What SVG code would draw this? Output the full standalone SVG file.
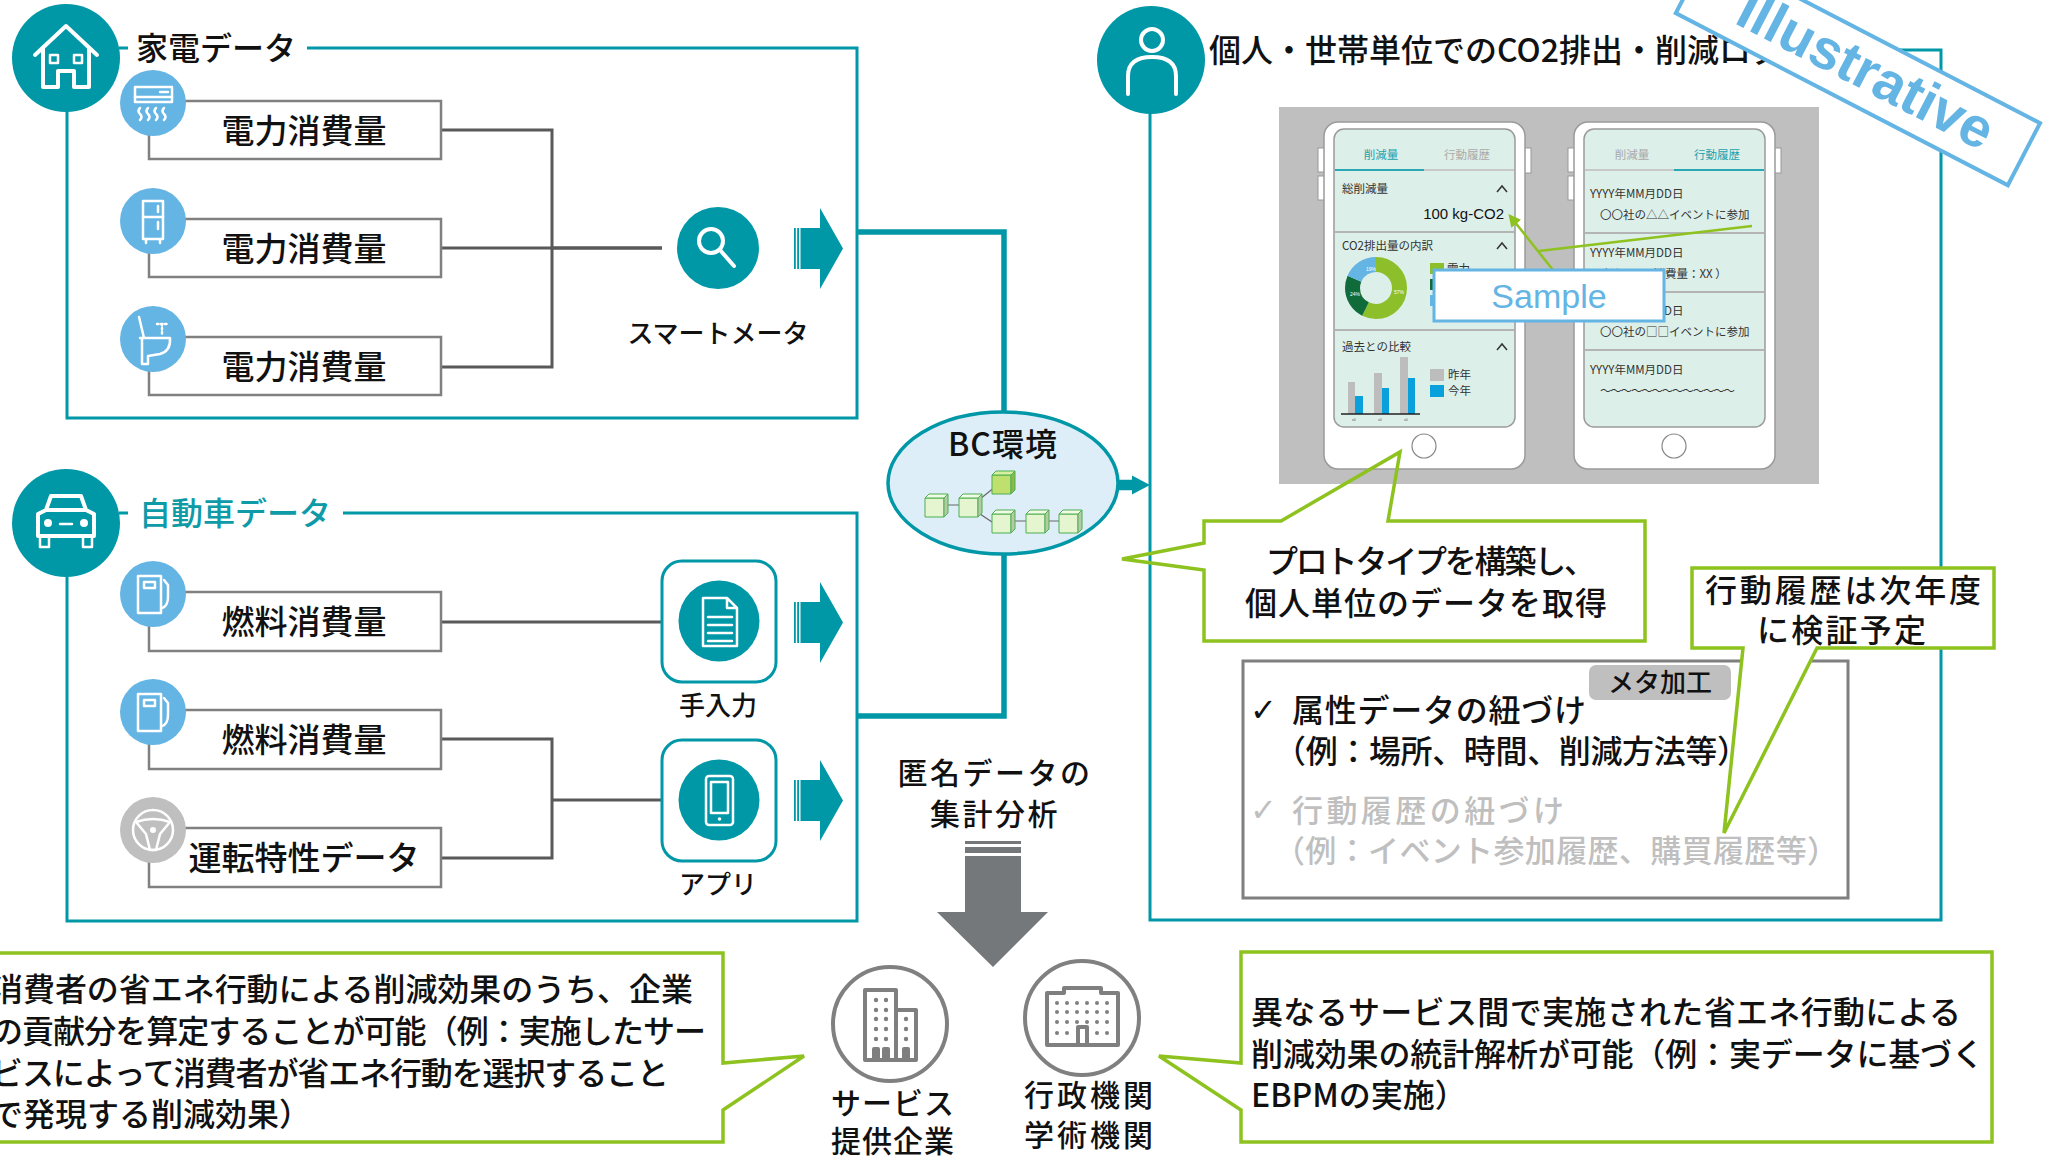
<svg xmlns="http://www.w3.org/2000/svg" width="2049" height="1156" viewBox="0 0 2049 1156">
<defs>
<style>
.jp{font-family:'Noto Sans CJK JP','Noto Sans',sans-serif;font-weight:500;}
.lat{font-family:'Liberation Sans',Arial,sans-serif;}
.frame{fill:none;stroke:#0097a7;stroke-width:3;}
.bus{fill:none;stroke:#0097a7;stroke-width:5.5;}
.lbox{fill:#fff;stroke:#808080;stroke-width:2.5;}
.conn{fill:none;stroke:#58595b;stroke-width:3;}
.wico{fill:none;stroke:#fff;stroke-width:4;stroke-linejoin:round;stroke-linecap:round;}
.wthin{fill:none;stroke:#fff;stroke-width:2.5;stroke-linejoin:round;stroke-linecap:round;}
.gico{fill:none;stroke:#7f7f7f;stroke-width:4;stroke-linejoin:round;}
.gdot{fill:#7f7f7f;}
.callout{fill:#fff;stroke:#8dc21f;stroke-width:3.5;}
.lbl{font-size:33px;fill:#111;text-anchor:middle;}
.cap{font-size:26px;fill:#111;text-anchor:middle;}
.head{font-size:32px;}
.body{font-size:32px;fill:#111;}
.ph{font-size:11.5px;fill:#333;font-weight:400;}
.phsep{stroke:#b4b4b4;stroke-width:2;}
.chev{fill:none;stroke:#333;stroke-width:1.5;}
.cfront{fill:#e4f5cf;stroke:#4caf50;stroke-width:1;}
.ctop{fill:#f2fbe6;stroke:#4caf50;stroke-width:1;}
.cside{fill:#b7caa6;stroke:#4caf50;stroke-width:1;}
</style>
<!-- striped block arrow pointing right, 49 x 81 -->
<g id="barrow">
  <rect x="0" y="20" width="1.8" height="41" fill="#0097a7"/>
  <rect x="3.2" y="20" width="1.8" height="41" fill="#0097a7"/>
  <path d="M6.5,20 H26 V0 L49,40.5 L26,81 V61 H6.5 Z" fill="#0097a7"/>
</g>
<g id="cube">
  <path class="cfront" d="M0,4 H19 V23 H0 Z"/>
  <path class="ctop" d="M0,4 L4,0 H23 L19,4 Z"/>
  <path class="cside" d="M19,4 L23,0 V19 L19,23 Z"/>
</g>
<g id="cubeDark">
  <path d="M0,4 H19 V23 H0 Z" fill="#bfe06e" stroke="#4caf50" stroke-width="1"/>
  <path d="M0,4 L4,0 H23 L19,4 Z" fill="#d8ef9e" stroke="#4caf50" stroke-width="1"/>
  <path d="M19,4 L23,0 V19 L19,23 Z" fill="#8db84c" stroke="#4caf50" stroke-width="1"/>
</g>
<marker id="garrow" viewBox="0 0 10 10" refX="8" refY="5" markerWidth="5" markerHeight="5" orient="auto">
  <path d="M0,0 L10,5 L0,10 Z" fill="#8dc21f"/>
</marker>
</defs>

<rect width="2049" height="1156" fill="#fff"/>

<!-- section frames -->
<g id="frames">
  <path class="frame" d="M119,48 H128 M307,48 H857 V418 H67 V110"/>
  <path class="frame" d="M119,513 H128 M343,513 H857 V921 H67 V575"/>
  <path class="frame" d="M1150,112 V920 H1941 V50 H1795"/>
</g>

<!-- connectors -->
<g id="connectors">
  <path class="conn" d="M441,130 H552 V367 H441 M441,248 H662"/>
  <path class="conn" d="M552,248 H662" stroke-width="3.5"/>
  <path class="conn" d="M441,622 H662"/>
  <path class="conn" d="M441,739 H552 V858 H441 M552,800 H662"/>
  <path class="bus" d="M857,232 H1004 V411"/>
  <path class="bus" d="M857,716 H1004 V554"/>
  <path d="M1117,485 H1134" stroke="#0097a7" stroke-width="10.5" fill="none"/>
  <path d="M1132,475.5 L1150,485 L1132,494.5 Z" fill="#0097a7"/>
  <use href="#barrow" transform="translate(794,208)"/>
  <use href="#barrow" transform="translate(794,582)"/>
  <use href="#barrow" transform="translate(794,760)"/>
  <!-- analysis arrow -->
  <rect x="965" y="841" width="56" height="3" fill="#75787b"/>
  <rect x="965" y="847" width="56" height="6" fill="#75787b"/>
  <path d="M965,856 H1021 V912 H1048 L993,967 L937,912 H965 Z" fill="#75787b"/>
</g>

<!-- household appliance section -->
<g id="home-head">
  <circle cx="66" cy="58" r="54" fill="#0097a7"/>
  <path class="wico" d="M35,55 L66,26 L97,55 M43,48 V87 H58 V71 H74 V87 H89 V48"/>
  <rect x="50" y="55" width="8" height="8" class="wthin"/>
  <rect x="74" y="55" width="8" height="8" class="wthin"/>
  <text class="jp head" x="136" y="60" fill="#111">家電データ</text>
</g>
<g id="ac-power">
  <rect class="lbox" x="149" y="101" width="292" height="58"/>
  <circle cx="153" cy="103" r="33" fill="#64b4e4"/>
  <rect class="wthin" x="135" y="87" width="37" height="15"/>
  <path class="wthin" d="M135,97 H172 M160,92 H168"/>
  <path class="wthin" stroke-width="2" d="M140,108 q-3,3 0,6 q3,3 0,6 M148,108 q-3,3 0,6 q3,3 0,6 M156,108 q-3,3 0,6 q3,3 0,6 M164,108 q-3,3 0,6 q3,3 0,6"/>
  <text class="jp lbl" x="304" y="142.5">電力消費量</text>
</g>
<g id="fridge-power">
  <rect class="lbox" x="149" y="219" width="292" height="58"/>
  <circle cx="153" cy="221" r="33" fill="#64b4e4"/>
  <rect class="wthin" x="143" y="201" width="20" height="38"/>
  <path class="wthin" d="M143,217 H163 M158,206 V212 M158,222 V229 M146,239 V243 M160,239 V243"/>
  <text class="jp lbl" x="304" y="260.5">電力消費量</text>
</g>
<g id="toilet-power">
  <rect class="lbox" x="149" y="337" width="292" height="58"/>
  <circle cx="153" cy="339" r="33" fill="#64b4e4"/>
  <path class="wthin" d="M139,317 L144,338 M140,338 H170 Q171,351 160,354 L148,356 V364 H142 V338"/>
  <path class="wthin" stroke-width="2" stroke-dasharray="1.5 2.5" d="M157,324 H167 M162,324 V336"/>
  <text class="jp lbl" x="304" y="379">電力消費量</text>
</g>
<g id="smart-meter">
  <circle cx="718" cy="248" r="41" fill="#0097a7"/>
  <circle class="wico" cx="711" cy="241" r="12"/>
  <path class="wico" d="M720,250 L734,266"/>
  <text class="jp cap" x="718" y="343" font-size="25">スマートメータ</text>
</g>

<!-- vehicle section -->
<g id="car-head">
  <circle cx="66" cy="523" r="54" fill="#0097a7"/>
  <path class="wico" d="M38,536 V514 L46,510 L51,496 H81 L86,510 L94,514 V536 Z M46,510 H86"/>
  <path class="wthin" d="M40,538 V547 H49 V538 M83,538 V547 H92 V538"/>
  <circle cx="48" cy="523" r="4" fill="#fff"/>
  <circle cx="84" cy="523" r="4" fill="#fff"/>
  <path class="wthin" d="M60,524 H72"/>
  <text class="jp head" x="139" y="525" fill="#0e9aa7">自動車データ</text>
</g>
<g id="fuel-1">
  <rect class="lbox" x="149" y="592" width="292" height="59"/>
  <circle cx="153" cy="594" r="33" fill="#64b4e4"/>
  <rect class="wthin" x="138" y="576" width="23" height="37"/>
  <rect class="wthin" x="144" y="582" width="11" height="6"/>
  <path class="wthin" d="M164,580 L168,585 V597 Q168,606 162,608"/>
  <text class="jp lbl" x="304" y="634">燃料消費量</text>
</g>
<g id="fuel-2">
  <rect class="lbox" x="149" y="710" width="292" height="59"/>
  <circle cx="153" cy="712" r="33" fill="#64b4e4"/>
  <rect class="wthin" x="138" y="694" width="23" height="37"/>
  <rect class="wthin" x="144" y="700" width="11" height="6"/>
  <path class="wthin" d="M164,698 L168,703 V715 Q168,724 162,726"/>
  <text class="jp lbl" x="304" y="752">燃料消費量</text>
</g>
<g id="driving-data">
  <rect class="lbox" x="149" y="828" width="292" height="59"/>
  <circle cx="153" cy="830" r="33" fill="#bfbfbf"/>
  <circle class="wthin" cx="153" cy="830" r="20"/>
  <path class="wthin" d="M136,822 Q153,816 170,822 L160,834 L156,850 H150 L146,834 Z"/>
  <circle cx="153" cy="830" r="3" fill="#fff"/>
  <text class="jp lbl" x="304" y="870" fill="#808080">運転特性データ</text>
</g>
<g id="manual-input">
  <rect x="662" y="561" width="114" height="121" rx="20" fill="#fff" stroke="#0097a7" stroke-width="3"/>
  <circle cx="719" cy="621" r="40.5" fill="#0097a7"/>
  <path class="wthin" d="M703,598 H727 L737,608 V646 H703 Z M727,598 V608 H737"/>
  <path class="wthin" d="M708,617 H732 M708,625 H732 M708,633 H732 M708,641 H732"/>
  <text class="jp cap" x="718" y="715">手入力</text>
</g>
<g id="app">
  <rect x="662" y="740" width="114" height="121" rx="20" fill="#fff" stroke="#0097a7" stroke-width="3"/>
  <circle cx="719" cy="800" r="40.5" fill="#0097a7"/>
  <rect class="wthin" x="706" y="776" width="27" height="49" rx="3"/>
  <rect class="wthin" x="711" y="782" width="17" height="31"/>
  <circle cx="719.5" cy="819" r="1.8" fill="#fff"/>
  <text class="jp cap" x="718" y="894">アプリ</text>
</g>

<!-- blockchain environment -->
<g id="bc-env">
  <ellipse cx="1003" cy="483" rx="115" ry="71" fill="#ddeef8" stroke="#0097a7" stroke-width="3.5"/>
  <text class="jp" x="1003" y="456" font-size="32" text-anchor="middle" fill="#111" letter-spacing="1">BC環境</text>
  <path d="M946,505 H961 M980,499 L995,487 M980,514 L995,524 M1014,521 H1028 M1047,521 H1061" stroke="#666" stroke-width="1.2" fill="none"/>
  <use href="#cube" transform="translate(925,494)"/>
  <use href="#cube" transform="translate(959,494)"/>
  <use href="#cubeDark" transform="translate(992,471)"/>
  <use href="#cube" transform="translate(992,510)"/>
  <use href="#cube" transform="translate(1026,510)"/>
  <use href="#cube" transform="translate(1059,510)"/>
</g>

<!-- personal / household section -->
<g id="person-head">
  <circle cx="1151" cy="60" r="54" fill="#0097a7"/>
  <circle class="wico" cx="1152" cy="40" r="11"/>
  <path class="wico" d="M1128,94 V76 Q1128,57 1152,57 Q1176,57 1176,76 V94"/>
  <text class="jp head" x="1209" y="62" fill="#111">個人・世帯単位でのCO2排出・削減ログ</text>
</g>

<!-- app prototype screens -->
<g id="prototype">
  <rect x="1279" y="107" width="540" height="377" fill="#bfbfbf"/>
  <!-- phone 1 -->
  <rect x="1318" y="148" width="7" height="24" fill="#fff" stroke="#999"/>
  <rect x="1318" y="176" width="7" height="24" fill="#fff" stroke="#999"/>
  <rect x="1524" y="148" width="7" height="25" fill="#fff" stroke="#999"/>
  <rect x="1324" y="122" width="201" height="347" rx="14" fill="#fff" stroke="#9a9a9a" stroke-width="1.5"/>
  <rect x="1334" y="129" width="181" height="298" rx="10" fill="#ddefe9" stroke="#9a9a9a" stroke-width="1.5"/>
  <circle cx="1424" cy="446" r="12" fill="#fff" stroke="#888" stroke-width="1.2"/>
  <text class="jp ph" x="1381" y="159" text-anchor="middle" style="fill:#1aa3b0">削減量</text>
  <text class="jp ph" x="1467" y="159" text-anchor="middle" style="fill:#aaa">行動履歴</text>
  <path d="M1335,170 H1424" stroke="#2aa8b5" stroke-width="2"/>
  <path d="M1424,170 H1514" stroke="#c8c8c8" stroke-width="2"/>
  <text class="jp ph" x="1342" y="193">総削減量</text>
  <polyline class="chev" points="1497,192 1502,186 1507,192"/>
  <text class="lat" x="1504" y="219" font-size="15" text-anchor="end" fill="#111">100 kg-CO2</text>
  <path class="phsep" d="M1335,232 H1514"/>
  <text class="jp ph" x="1342" y="250">CO2排出量の内訳</text>
  <polyline class="chev" points="1497,249 1502,243 1507,249"/>
  <g transform="rotate(-90 1376 288)" fill="none" stroke-width="15">
    <circle cx="1376" cy="288" r="23.5" stroke="#8dbf2a" stroke-dasharray="84.2 63.5"/>
    <circle cx="1376" cy="288" r="23.5" stroke="#0f6b3a" stroke-dasharray="35.4 112.3" stroke-dashoffset="-84.2"/>
    <circle cx="1376" cy="288" r="23.5" stroke="#64b4e4" stroke-dasharray="28.0 119.7" stroke-dashoffset="-119.6"/>
  </g>
  <text class="lat" x="1366" y="271" font-size="5" fill="#fff">19%</text>
  <text class="lat" x="1350" y="296" font-size="5" fill="#fff">24%</text>
  <text class="lat" x="1394" y="294" font-size="5" fill="#fff">57%</text>
  <rect x="1430" y="263" width="14" height="11" fill="#8dbf2a"/>
  <rect x="1430" y="279" width="14" height="11" fill="#0f6b3a"/>
  <rect x="1430" y="295" width="14" height="11" fill="#64b4e4"/>
  <text class="jp ph" x="1447" y="273" font-size="11">電力</text>
  <path class="phsep" d="M1335,330 H1514"/>
  <text class="jp ph" x="1342" y="351">過去との比較</text>
  <polyline class="chev" points="1497,350 1502,344 1507,350"/>
  <rect x="1348" y="382" width="7" height="32" fill="#bdbdbd"/>
  <rect x="1355" y="396" width="8" height="18" fill="#0aa0dc"/>
  <rect x="1374" y="373" width="8" height="41" fill="#bdbdbd"/>
  <rect x="1382" y="388" width="7" height="26" fill="#0aa0dc"/>
  <rect x="1400" y="357" width="8" height="57" fill="#bdbdbd"/>
  <rect x="1408" y="378" width="7" height="36" fill="#0aa0dc"/>
  <path d="M1341,414 H1420" stroke="#222" stroke-width="1.5"/>
  <text class="lat" x="1352" y="421" font-size="3.5" fill="#555">x0</text>
  <text class="lat" x="1378" y="421" font-size="3.5" fill="#555">x0</text>
  <text class="lat" x="1404" y="421" font-size="3.5" fill="#555">x0</text>
  <rect x="1430" y="369" width="14" height="12" fill="#bdbdbd"/>
  <rect x="1430" y="385" width="14" height="12" fill="#0aa0dc"/>
  <text class="jp ph" x="1448" y="379" font-size="11">昨年</text>
  <text class="jp ph" x="1448" y="395" font-size="11">今年</text>
  <!-- phone 2 -->
  <rect x="1568" y="148" width="7" height="24" fill="#fff" stroke="#999"/>
  <rect x="1568" y="176" width="7" height="24" fill="#fff" stroke="#999"/>
  <rect x="1774" y="148" width="7" height="25" fill="#fff" stroke="#999"/>
  <rect x="1574" y="122" width="201" height="347" rx="14" fill="#fff" stroke="#9a9a9a" stroke-width="1.5"/>
  <rect x="1584" y="129" width="181" height="298" rx="10" fill="#ddefe9" stroke="#9a9a9a" stroke-width="1.5"/>
  <circle cx="1674" cy="446" r="12" fill="#fff" stroke="#888" stroke-width="1.2"/>
  <text class="jp ph" x="1632" y="159" text-anchor="middle" style="fill:#aaa">削減量</text>
  <text class="jp ph" x="1717" y="159" text-anchor="middle" style="fill:#1aa3b0">行動履歴</text>
  <path d="M1585,170 H1674" stroke="#c8c8c8" stroke-width="2"/>
  <path d="M1674,170 H1764" stroke="#2aa8b5" stroke-width="2"/>
  <text class="jp ph" x="1590" y="198">YYYY年MM月DD日</text>
  <text class="jp ph" x="1600" y="219">〇〇社の△△イベントに参加</text>
  <path class="phsep" d="M1585,233 H1764"/>
  <text class="jp ph" x="1590" y="257">YYYY年MM月DD日</text>
  <text class="jp ph" x="1596" y="278">（ガソリン消費量：XX ）</text>
  <path class="phsep" d="M1585,292 H1764"/>
  <text class="jp ph" x="1590" y="315">YYYY年MM月DD日</text>
  <text class="jp ph" x="1600" y="336">〇〇社の□□イベントに参加</text>
  <path class="phsep" d="M1585,350 H1764"/>
  <text class="jp ph" x="1590" y="374">YYYY年MM月DD日</text>
  <text class="jp ph" x="1600" y="395" textLength="135">～～～～～～～～～～～～～</text>
  <!-- sample label -->
  <path d="M1553,270 L1510,216" stroke="#8dc21f" stroke-width="2.5" marker-end="url(#garrow)"/>
  <path d="M1539,251 L1752,226" stroke="#8dc21f" stroke-width="2.5"/>
  <rect x="1434" y="270" width="230" height="51" fill="#fff" stroke="#64b4e4" stroke-width="3"/>
  <text class="lat" x="1549" y="308" font-size="34" text-anchor="middle" fill="#64b4e4">Sample</text>
</g>

<!-- callouts -->
<g id="callout-prototype">
  <path class="callout" style="fill:none" d="M1204,521 H1281 L1400,452 L1388,521 H1645 V641 H1204 V570 L1122,559 L1204,543 Z"/>
  <text class="jp body" x="1266" y="573" font-size="31" textLength="330">プロトタイプを構築し、</text>
  <text class="jp body" x="1245" y="615" font-size="31" textLength="362">個人単位のデータを取得</text>
</g>

<g id="meta-box">
  <rect x="1243" y="661" width="605" height="237" fill="#fff" stroke="#7f7f7f" stroke-width="3"/>
  <rect x="1589" y="665" width="142" height="35" rx="7" fill="#bfbfbf"/>
  <text class="jp" x="1660" y="692" font-size="26" text-anchor="middle" fill="#111">メタ加工</text>
  <text x="1250" y="721" font-size="32" fill="#111" font-family="'DejaVu Sans',sans-serif">✓</text>
  <text class="jp body" x="1292" y="722" font-size="31" textLength="294">属性データの紐づけ</text>
  <text class="jp body" x="1274" y="763" font-size="31" textLength="475">（例：場所、時間、削減方法等）</text>
  <text x="1250" y="821" font-size="32" fill="#bfbfbf" font-family="'DejaVu Sans',sans-serif">✓</text>
  <text class="jp" x="1292" y="822" font-size="31" fill="#bfbfbf" textLength="272">行動履歴の紐づけ</text>
  <text class="jp" x="1274" y="862" font-size="31" fill="#bfbfbf" textLength="564">（例：イベント参加履歴、購買履歴等）</text>
</g>

<g id="callout-history">
  <path class="callout" d="M1692,568 H1994 V648 H1817 L1724,833 L1743,648 H1692 Z"/>
  <text class="jp body" x="1705" y="602" font-size="31" textLength="276">行動履歴は次年度</text>
  <text class="jp body" x="1757" y="642" font-size="31" textLength="169">に検証予定</text>
</g>

<!-- anonymised analysis -->
<g id="analysis-label">
  <text class="jp" x="995" y="784" font-size="30" text-anchor="middle" fill="#111" letter-spacing="2.5">匿名データの</text>
  <text class="jp" x="995" y="825" font-size="30" text-anchor="middle" fill="#111" letter-spacing="2.5">集計分析</text>
</g>

<g id="service-company">
  <circle cx="890" cy="1024" r="57" fill="#fff" stroke="#808080" stroke-width="4"/>
  <rect class="gico" x="865" y="990" width="31" height="70"/>
  <rect class="gico" x="896" y="1010" width="20" height="50"/>
  <g class="gdot">
    <circle cx="876" cy="1000" r="2.2"/><circle cx="886" cy="1000" r="2.2"/>
    <circle cx="876" cy="1010" r="2.2"/><circle cx="886" cy="1010" r="2.2"/>
    <circle cx="876" cy="1019" r="2.2"/><circle cx="886" cy="1019" r="2.2"/>
    <circle cx="876" cy="1029" r="2.2"/><circle cx="886" cy="1029" r="2.2"/>
    <circle cx="876" cy="1039" r="2.2"/><circle cx="886" cy="1039" r="2.2"/>
    <circle cx="906" cy="1019" r="2.2"/><circle cx="906" cy="1029" r="2.2"/><circle cx="906" cy="1039" r="2.2"/>
  </g>
  <path class="gico" stroke-width="3" d="M874,1060 V1049 H878 V1060 M884,1060 V1049 H888 V1060 M904,1060 V1049 H908 V1060"/>
  <text class="jp" x="893" y="1114" font-size="30" text-anchor="middle" fill="#111" letter-spacing="1">サービス</text>
  <text class="jp" x="893" y="1152" font-size="30" text-anchor="middle" fill="#111" letter-spacing="1">提供企業</text>
</g>

<g id="public-institutions">
  <circle cx="1082" cy="1018" r="57" fill="#fff" stroke="#808080" stroke-width="4"/>
  <path class="gico" d="M1047,1045 V993 H1064 V988 H1101 V993 H1118 V1045 Z"/>
  <g class="gdot">
    <circle cx="1057" cy="1003" r="2"/><circle cx="1067" cy="1003" r="2"/><circle cx="1077" cy="1003" r="2"/><circle cx="1087" cy="1003" r="2"/><circle cx="1097" cy="1003" r="2"/><circle cx="1107" cy="1003" r="2"/>
    <circle cx="1057" cy="1012" r="2"/><circle cx="1067" cy="1012" r="2"/><circle cx="1077" cy="1012" r="2"/><circle cx="1087" cy="1012" r="2"/><circle cx="1097" cy="1012" r="2"/><circle cx="1107" cy="1012" r="2"/>
    <circle cx="1057" cy="1022" r="2"/><circle cx="1067" cy="1022" r="2"/><circle cx="1077" cy="1022" r="2"/><circle cx="1087" cy="1022" r="2"/><circle cx="1097" cy="1022" r="2"/><circle cx="1107" cy="1022" r="2"/>
    <circle cx="1057" cy="1033" r="2"/><circle cx="1067" cy="1033" r="2"/><circle cx="1097" cy="1033" r="2"/><circle cx="1107" cy="1033" r="2"/>
  </g>
  <path class="gico" stroke-width="3" d="M1078,1045 V1027 H1087 V1045"/>
  <text class="jp" x="1090" y="1106" font-size="30" text-anchor="middle" fill="#111" letter-spacing="3">行政機関</text>
  <text class="jp" x="1090" y="1146" font-size="30" text-anchor="middle" fill="#111" letter-spacing="3">学術機関</text>
</g>

<g id="callout-company">
  <path class="callout" d="M-10,953 H723 V1063 L804,1056 L723,1110 V1142 H-10 Z"/>
  <text class="jp body" x="-9" y="1001" textLength="702">消費者の省エネ行動による削減効果のうち、企業</text>
  <text class="jp body" x="-9" y="1043" textLength="715">の貢献分を算定することが可能（例：実施したサー</text>
  <text class="jp body" x="-9" y="1085" textLength="678">ビスによって消費者が省エネ行動を選択すること</text>
  <text class="jp body" x="-9" y="1126">で発現する削減効果）</text>
</g>

<g id="callout-public">
  <path class="callout" d="M1241,952 H1992 V1142 H1241 V1110 L1159,1056 L1241,1063 Z"/>
  <text class="jp body" x="1251" y="1024" textLength="710">異なるサービス間で実施された省エネ行動による</text>
  <text class="jp body" x="1251" y="1066" textLength="733">削減効果の統計解析が可能（例：実データに基づく</text>
  <text class="jp body" x="1251" y="1107">EBPMの実施）</text>
</g>

<!-- stamp -->
<g id="stamp" transform="translate(1708,-49) rotate(27.4)">
  <rect x="0" y="0" width="374" height="70" fill="#fff" stroke="#64b4e4" stroke-width="4"/>
  <text class="lat" x="55" y="52" font-size="56" font-weight="bold" fill="#64b4e4">Illustrative</text>
</g>
</svg>
